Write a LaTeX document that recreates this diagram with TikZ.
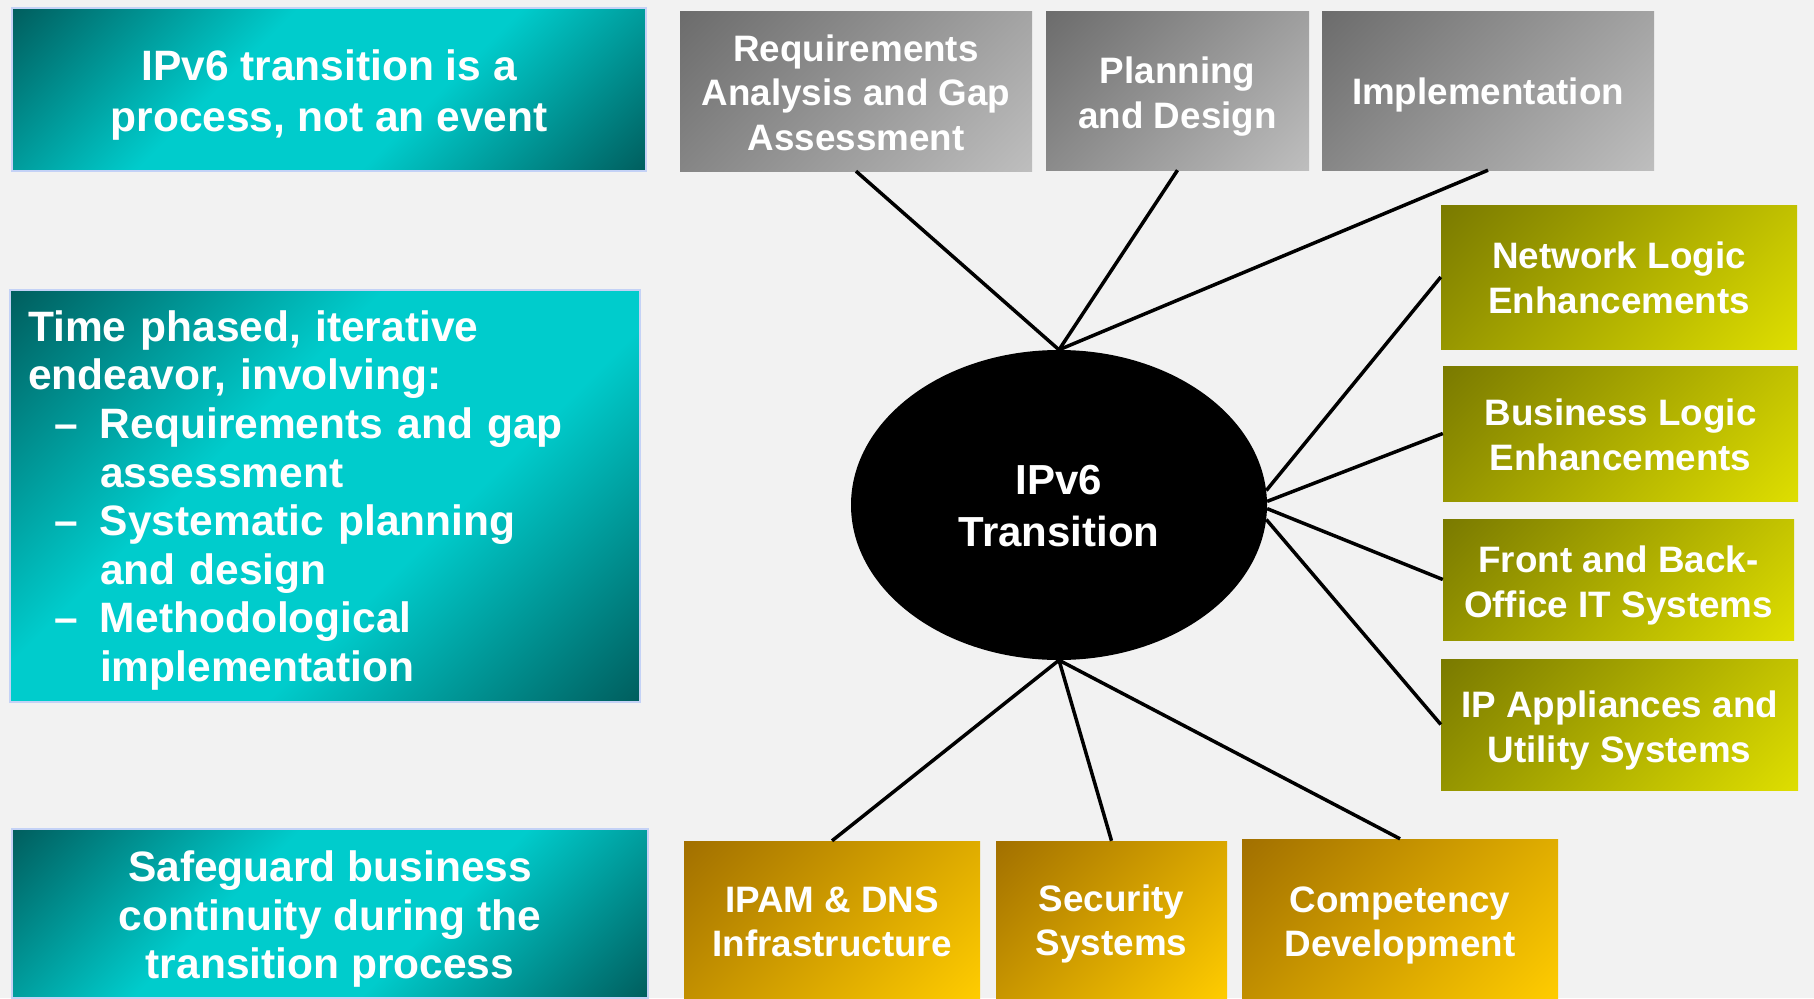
\documentclass[tikz,border=0pt]{standalone}
\usepackage{fontspec}
\setmainfont{Liberation Sans}
\usetikzlibrary{shapes.geometric,calc}

\definecolor{bg}{HTML}{F2F2F2}
\definecolor{tealdark}{HTML}{005E5E}
\definecolor{tealbright}{HTML}{00CCCC}
\definecolor{tealborder}{HTML}{C4D2F6}
\definecolor{graydark}{HTML}{6C6C6C}
\definecolor{graylight}{HTML}{BEBEBE}
\definecolor{olivedark}{HTML}{7A7A00}
\definecolor{olivelight}{HTML}{DEDE00}
\definecolor{ambdark}{HTML}{A27000}
\definecolor{amblight}{HTML}{FFCC00}

\pgfdeclarehorizontalshading{tealsh}{100bp}{color(0bp)=(tealdark); color(14.6bp)=(tealdark); color(40bp)=(tealbright); color(60bp)=(tealbright); color(85.4bp)=(tealdark); color(100bp)=(tealdark)}
\pgfdeclarehorizontalshading{graysh}{100bp}{color(0bp)=(graydark); color(14.6bp)=(graydark); color(85.4bp)=(graylight); color(100bp)=(graylight)}
\pgfdeclarehorizontalshading{olivesh}{100bp}{color(0bp)=(olivedark); color(14.6bp)=(olivedark); color(85.4bp)=(olivelight); color(100bp)=(olivelight)}
\pgfdeclarehorizontalshading{ambsh}{100bp}{color(0bp)=(ambdark); color(14.6bp)=(ambdark); color(85.4bp)=(amblight); color(100bp)=(amblight)}

\begin{document}
\begin{tikzpicture}[x=1pt,y=-1pt,
  box/.style={rectangle, inner sep=0pt, shade, shading angle=-45},
  tealbox/.style={box, shading=tealsh, draw=tealborder, line width=2.5pt},
  graybox/.style={box, shading=graysh},
  olivebox/.style={box, shading=olivesh},
  ambbox/.style={box, shading=ambsh},
  lbl/.style={inner sep=0pt, text=white, align=center},
  tealtext/.style={lbl, font=\bfseries\fontsize{42.5}{51}\selectfont},
  graytext/.style={lbl, font=\bfseries\fontsize{36.8}{44.5}\selectfont},
  olivetext/.style={lbl, font=\bfseries\fontsize{36.8}{45}\selectfont},
  ambtext/.style={lbl, font=\bfseries\fontsize{36.8}{44}\selectfont},
  hub/.style={ellipse, fill=black, text=white, align=center, inner sep=0pt,
    font=\bfseries\fontsize{42}{52}\selectfont},
  link/.style={line width=3.5pt, draw=black}]

\useasboundingbox (0,0) rectangle (1814,998);
\fill[bg] (0,0) rectangle (1814,998);

% teal boxes
\node[tealbox, minimum width=634pt, minimum height=163pt] (t1) at (329,89.5) {};
\node[tealtext] (t1text) at ($(t1.center)+(0,5.5)$) {IPv6 transition is a\\process, not an event};

\node[tealbox, minimum width=630pt, minimum height=412pt] (t2) at (325,496) {};
\node[tealtext, text width=594pt, align=left, font=\bfseries\fontsize{42.5}{48.6}\selectfont]
  (t2text) at ($(t2.center)+(0,4.5)$)
  {Time phased, iterative\\
   endeavor, involving:\\
   \hspace*{26pt}\makebox[46pt][l]{–}Requirements and gap\\
   \hspace*{72pt}assessment\\
   \hspace*{26pt}\makebox[46pt][l]{–}Systematic planning\\
   \hspace*{72pt}and design\\
   \hspace*{26pt}\makebox[46pt][l]{–}Methodological\\
   \hspace*{72pt}implementation};

\node[tealbox, minimum width=636pt, minimum height=169pt] (t3) at (330,913.5) {};
\node[tealtext, font=\bfseries\fontsize{42.5}{48.6}\selectfont] (t3text) at ($(t3.center)+(0,5.5)$)
  {Safeguard business\\continuity during the\\transition process};

% gray boxes
\node[graybox, minimum width=352pt, minimum height=159pt] (g1) at (856,91.5) {};
\node[graytext] (g1text) at ($(g1.center)+(0,1)$) {Requirements\\Analysis and Gap\\Assessment};
\node[graybox, minimum width=263pt, minimum height=158pt] (g2) at (1177.5,91) {};
\node[graytext] (g2text) at ($(g2.center)+(0,5.5)$) {Planning\\and Design};
\node[graybox, minimum width=332pt, minimum height=158pt] (g3) at (1488,91) {};
\node[graytext] (g3text) at ($(g3.center)+(0,3.5)$) {Implementation};

% olive boxes
\node[olivebox, minimum width=356pt, minimum height=144pt] (n1) at (1619,277) {};
\node[olivetext] (n1text) at ($(n1.center)+(0,0.5)$) {Network Logic\\Enhancements};
\node[olivebox, minimum width=355pt, minimum height=135pt] (n2) at (1620.5,433.5) {};
\node[olivetext] (n2text) at ($(n2.center)+(0,1.5)$) {Business Logic\\Enhancements};
\node[olivebox, minimum width=351pt, minimum height=121pt] (n3) at (1618.5,579.5) {};
\node[olivetext] (n3text) at ($(n3.center)+(0,5.5)$) {Front and Back-\\Office IT Systems};
\node[olivebox, minimum width=357pt, minimum height=131pt] (n4) at (1619.5,724.5) {};
\node[olivetext] (n4text) at ($(n4.center)+(0,5.5)$) {IP Appliances and\\Utility Systems};

% amber boxes
\node[ambbox, minimum width=296pt, minimum height=157pt] (o1) at (832,919.5) {};
\node[ambtext] (o1text) at ($(o1.center)+(0,2.5)$) {IPAM \& DNS\\Infrastructure};
\node[ambbox, minimum width=231pt, minimum height=157pt] (o2) at (1111.5,919.5) {};
\node[ambtext] (o2text) at ($(o2.center)+(0,4.5)$) {Security\\Systems};
\node[ambbox, minimum width=316pt, minimum height=159pt] (o3) at (1400,918.5) {};
\node[ambtext] (o3text) at ($(o3.center)+(0,6.5)$) {Competency\\Development};

% hub
\node[hub, minimum width=416pt, minimum height=310pt] (hub) at (1059,505) {};
\node[lbl, font=\bfseries\fontsize{42}{52}\selectfont] (hubtext) at ($(hub.center)+(0,1.5)$) {IPv6\\Transition};

% connectors
\draw[link] (g1.south) -- (hub.north);
\draw[link] (g2.south) -- (hub.north);
\draw[link] (g3.south) -- (hub.north);
\draw[link] (n1.west) -- (hub.4);
\draw[link] (n2.west) -- (hub.1.4);
\draw[link] (n3.west) -- (hub.-1.4);
\draw[link] (n4.west) -- (hub.-4.4);
\draw[link] (o1.north) -- (hub.south);
\draw[link] (o2.north) -- (hub.south);
\draw[link] (o3.north) -- (hub.south);
\end{tikzpicture}
\end{document}
